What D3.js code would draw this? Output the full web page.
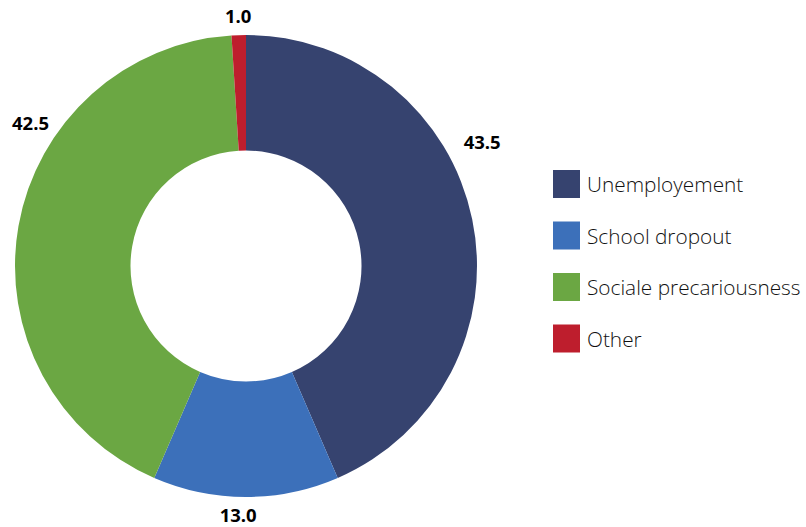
<!DOCTYPE html>
<html><head><meta charset="utf-8">
<script src="https://cdn.jsdelivr.net/npm/d3@7"></script>
<style>body{margin:0;background:#fff}</style>
</head><body>
<script>
const categories = ["Unemployement", "School dropout", "Sociale precariousness", "Other"];
const values = [43.5, 13.0, 42.5, 1.0];
const colors = ["#36436F", "#3C70BA", "#6BA743", "#BE1E2D"];
// label placement (angle in degrees clockwise from top, distance from centre)
const labelAngles = [62.2, 181.8, 303.7, 358.2];
const labelRadii = [267, 249, 259, 251];

const W = 806, H = 527;
const cx = 246, cy = 266, rOuter = 231, rInner = 115.5;

const svg = d3.select("body").append("svg").attr("width", W).attr("height", H);
const g = svg.append("g").attr("transform", `translate(${cx},${cy})`);

const pie = d3.pie().sort(null).value(d => d.v);
const arcs = pie(values.map((v, i) => ({v, i})));
const arc = d3.arc().innerRadius(rInner).outerRadius(rOuter);

g.selectAll("path").data(arcs).join("path")
  .attr("d", arc)
  .attr("fill", d => colors[d.data.i]);

g.selectAll("text.lbl").data(arcs).join("text")
  .attr("class", "lbl")
  .attr("x", d => labelRadii[d.data.i] * Math.sin(labelAngles[d.data.i] * Math.PI / 180))
  .attr("y", d => -labelRadii[d.data.i] * Math.cos(labelAngles[d.data.i] * Math.PI / 180))
  .attr("text-anchor", "middle")
  .attr("dominant-baseline", "central")
  .attr("font-family", "'Open Sans', sans-serif")
  .attr("font-weight", 700)
  .attr("font-size", 18.5)
  .attr("fill", "#000")
  .text(d => d3.format(".1f")(d.data.v));

const legend = svg.append("g").attr("transform", "translate(553,170)");
const ly = d3.scaleBand().domain(categories).range([0, 206]);
const items = legend.selectAll("g").data(categories).join("g")
  .attr("transform", d => `translate(0,${ly(d)})`);
items.append("rect").attr("width", 27).attr("height", 28)
  .attr("fill", (d, i) => colors[i]);
items.append("text").attr("x", 34).attr("y", 14)
  .attr("dominant-baseline", "central")
  .attr("font-family", "'Open Sans', sans-serif")
  .attr("font-weight", 300)
  .attr("font-size", 20.8)
  .attr("fill", "#111")
  .text(d => d);
</script>
</body></html>
